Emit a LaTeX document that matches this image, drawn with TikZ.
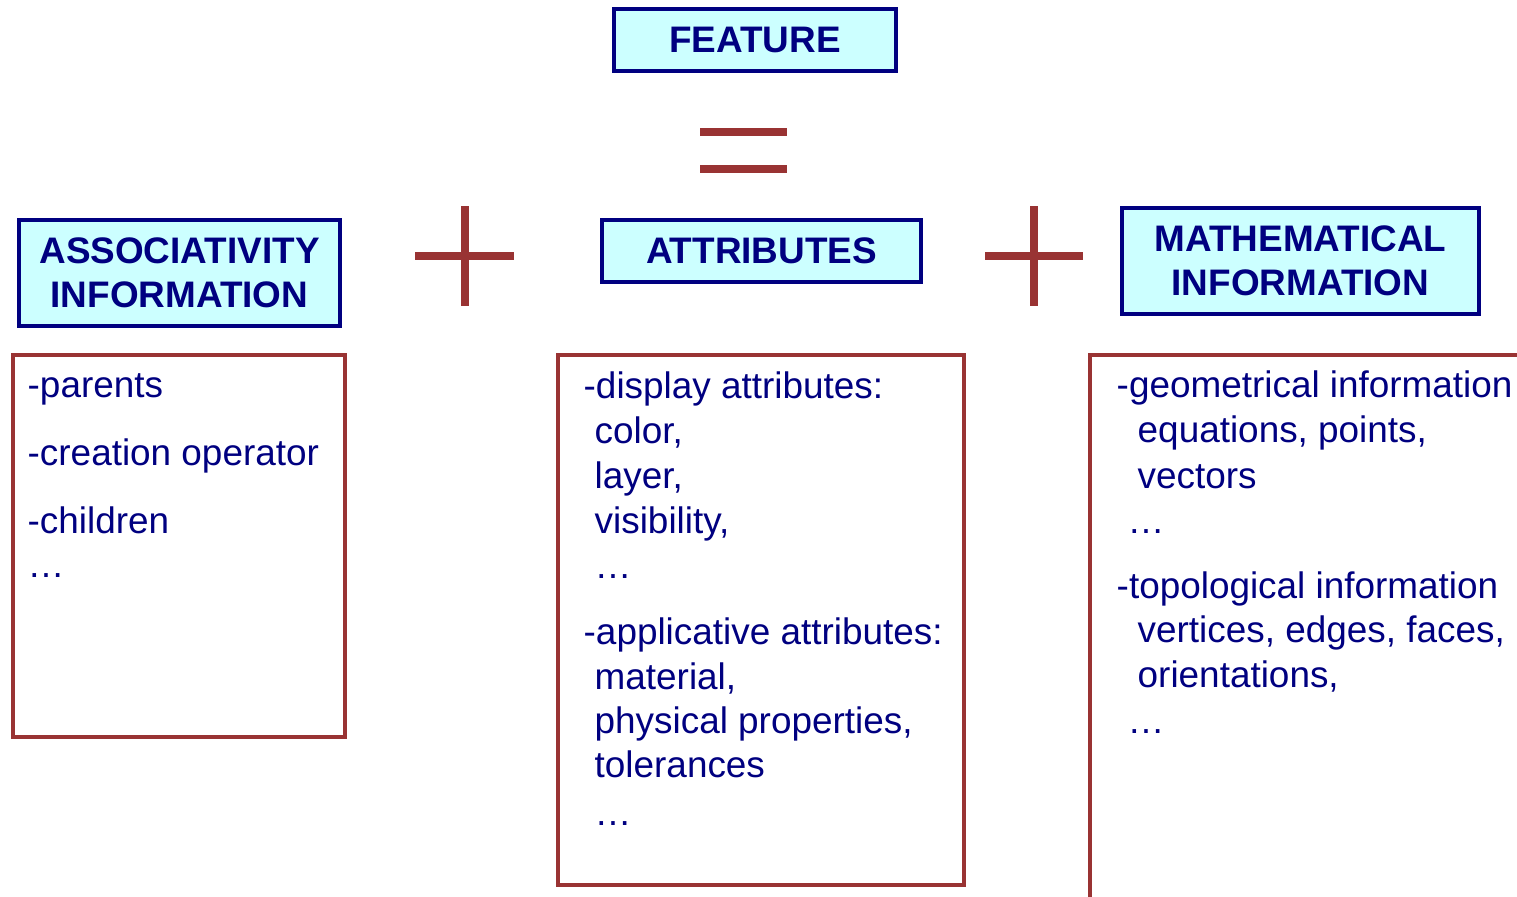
\documentclass[tikz,border=0pt]{standalone}
\usepackage{fontspec}
\setmainfont{Liberation Sans}
\usepackage{tikz}

\definecolor{navy}{RGB}{0,0,128}
\definecolor{lightcyan}{RGB}{204,255,255}
\definecolor{darkred}{RGB}{153,51,51}

\begin{document}
\begin{tikzpicture}
            [x=0.1mm,y=-0.1mm,
             head/.style={draw=navy,fill=lightcyan,line width=1.1pt,text=navy,align=center,
                          font=\fontsize{10.5}{12.6}\selectfont\bfseries,inner sep=0pt},
             frame/.style={draw=darkred,line width=1.1pt,inner sep=0pt},
             txt/.style={anchor=base west,inner sep=0pt,text=navy,font=\fontsize{10.5}{12.5}\selectfont},
             sign/.style={darkred,line width=2.3pt}]
            \useasboundingbox (0,0) rectangle (1517,896);
            \clip (0,0) rectangle (1517,896);
            %
            \node[head,minimum width=28.2mm,minimum height=6.2mm] (feat) at (755,40) {FEATURE};
            \node[head,minimum width=32.1mm,minimum height=10.6mm] (assoc) at (179.5,273) {ASSOCIATIVITY\\INFORMATION};
            \node[head,minimum width=31.9mm,minimum height=6.2mm] (attr) at (761.5,251) {ATTRIBUTES};
            \node[head,minimum width=35.7mm,minimum height=10.6mm] (math) at (1300.5,261) {MATHEMATICAL\\INFORMATION};
            %
            \node[frame,minimum width=33.2mm,minimum height=38.2mm] (assocbox) at (179,546) {};
            \node[frame,minimum width=40.6mm,minimum height=53mm] (attrbox) at (761,620) {};
            \node[frame,minimum width=51mm,minimum height=64.5mm] (mathbox) at (1345,677.5) {};
            %
            \draw[sign] (700,132) -- (787,132);
            \draw[sign] (700,169) -- (787,169);
            \draw[sign] (415,256) -- (514,256);
            \draw[sign] (465,206) -- (465,306);
            \draw[sign] (985,256) -- (1083,256);
            \draw[sign] (1034,206) -- (1034,306);
            %
            \node[txt] (a1) at (27,397) {-parents};
            \node[txt] (a2) at (27,465) {-creation operator};
            \node[txt] (a3) at (27,533) {-children};
            \node[txt] (a4) at (27,577) {…};
            %
            \node[txt] (b1) at (583,398) {-display attributes:};
            \node[txt] (b2) at (594,443) {color,};
            \node[txt] (b3) at (594,488) {layer,};
            \node[txt] (b4) at (594,533) {visibility,};
            \node[txt] (b5) at (594,578) {…};
            \node[txt] (b6) at (583,644) {-applicative attributes:};
            \node[txt] (b7) at (594,689) {material,};
            \node[txt] (b8) at (594,733) {physical properties,};
            \node[txt] (b9) at (594,777) {tolerances};
            \node[txt] (b10) at (594,825) {…};
            %
            \node[txt] (c1) at (1116,397) {-geometrical information};
            \node[txt] (c2) at (1137,442) {equations, points,};
            \node[txt] (c3) at (1137,488) {vectors};
            \node[txt] (c4) at (1127,533) {…};
            \node[txt] (c5) at (1116,598) {-topological information};
            \node[txt] (c6) at (1137,642) {vertices, edges, faces,};
            \node[txt] (c7) at (1137,687) {orientations,};
            \node[txt] (c8) at (1127,733) {…};
        \end{tikzpicture}
\end{document}
